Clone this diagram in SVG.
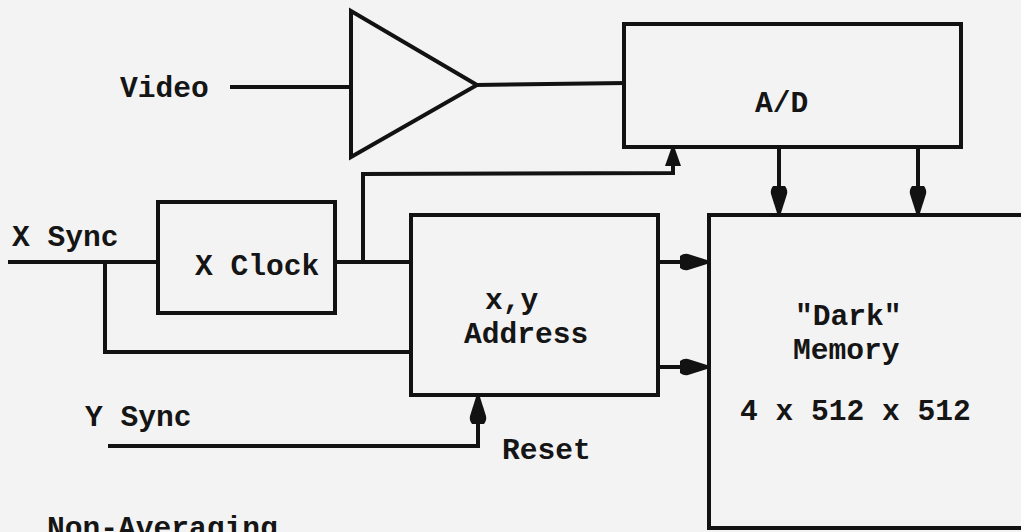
<svg xmlns="http://www.w3.org/2000/svg" width="1021" height="532" viewBox="0 0 1021 532">
<defs>
<style>
.ln{fill:none;stroke:#121212;stroke-width:4;stroke-linejoin:miter;stroke-linecap:square}
.bx{fill:none;stroke:#121212;stroke-width:4}
.t{font-family:"Liberation Mono","Courier New",monospace;font-size:29.6px;font-weight:bold;fill:#151515}
</style>
<marker id="ah" markerUnits="userSpaceOnUse" markerWidth="28" markerHeight="20" viewBox="0 0 28 20" refX="27" refY="10" orient="auto">
<path d="M0,4 Q4,1 8,2 L27,8 L27,12 L8,18 Q4,19 0,16 Z" fill="#121212"/>
</marker>
<marker id="ahs" markerUnits="userSpaceOnUse" markerWidth="18" markerHeight="18" viewBox="0 0 18 18" refX="17" refY="9" orient="auto">
<path d="M0,1 L17,7 L17,11 L0,17 Z" fill="#121212"/>
</marker>
</defs>
<rect width="1021" height="532" fill="#f3f3f3"/>
<g id="connectors">
<path class="ln" d="M232,87 L350,87"/>
<path class="ln" d="M477,85 L624,83"/>
<path class="ln" d="M10,262 L158,262"/>
<path class="ln" d="M105,262 L105,352 L411,352"/>
<path class="ln" d="M335,262 L411,262"/>
<path class="ln" d="M363,262 L363,174 L673,173 L673,149" marker-end="url(#ahs)"/>
<path class="ln" d="M779,147 L779,213" marker-end="url(#ah)"/>
<path class="ln" d="M918,147 L918,213" marker-end="url(#ah)"/>
<path class="ln" d="M658,262 L707,262" marker-end="url(#ah)"/>
<path class="ln" d="M658,367 L707,367" marker-end="url(#ah)"/>
<path class="ln" d="M110,446 L478,446 L478,397" marker-end="url(#ah)"/>
</g>
<g id="amplifier">
<path class="bx" d="M351,11 L351,157 L477,85 Z"/>
</g>
<g id="ad">
<rect class="bx" x="624" y="24" width="337" height="123"/>
<text class="t" x="755" y="112">A/D</text>
</g>
<g id="xclock">
<rect class="bx" x="158" y="202" width="177" height="111"/>
<text class="t" x="195" y="275">X Clock</text>
</g>
<g id="address">
<rect class="bx" x="411" y="215" width="247" height="180"/>
<text class="t" x="485" y="309">x,y</text>
<text class="t" x="464" y="343">Address</text>
</g>
<g id="memory">
<rect class="bx" x="709" y="215" width="330" height="313"/>
<text class="t" x="795" y="325">"Dark"</text>
<text class="t" x="793" y="359">Memory</text>
<text class="t" x="740" y="420">4 x 512 x 512</text>
</g>
<g id="labels">
<text class="t" x="120" y="97">Video</text>
<text class="t" x="12" y="246">X Sync</text>
<text class="t" x="85" y="426">Y Sync</text>
<text class="t" x="502" y="459">Reset</text>
<text class="t" x="47" y="537">Non-Averaging</text>
</g>
</svg>
